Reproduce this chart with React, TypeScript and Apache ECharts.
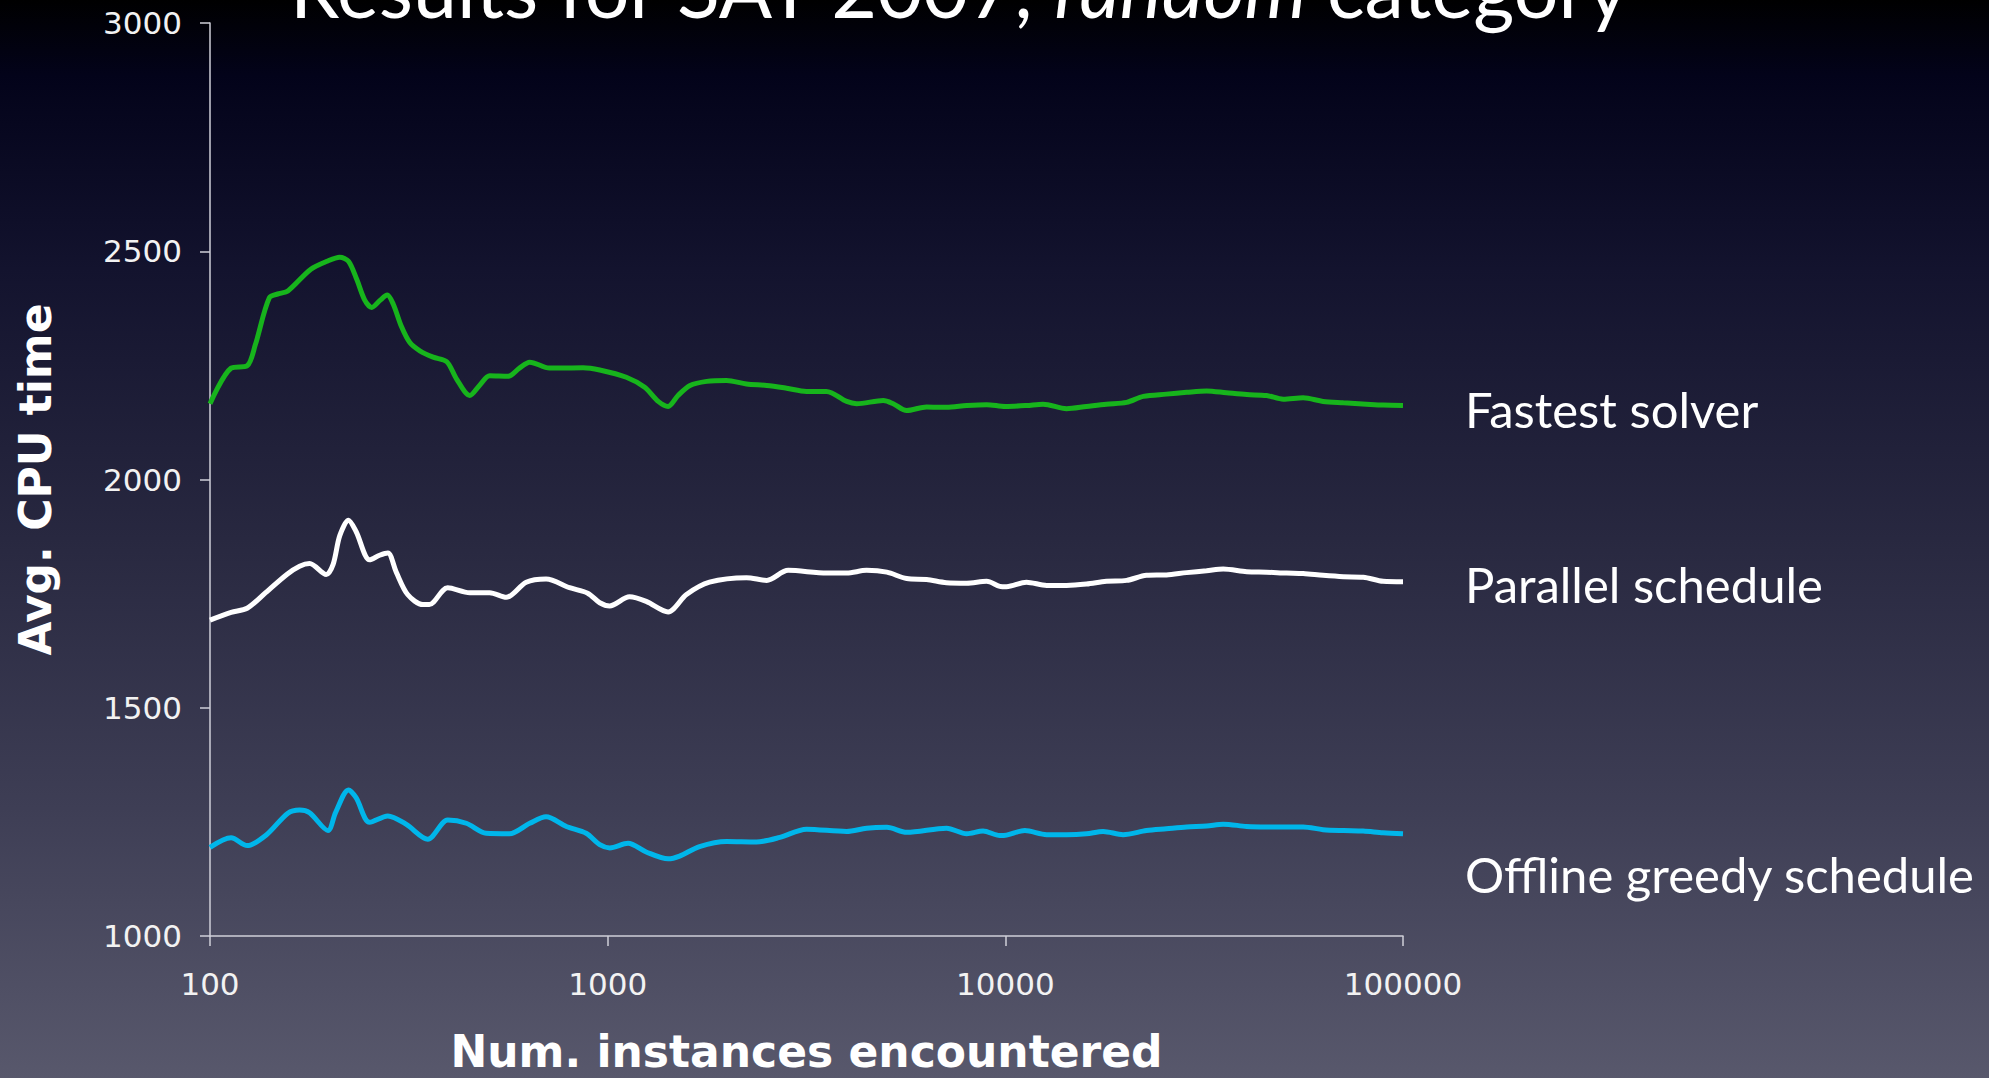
import React, { useEffect, useRef } from "react";
import * as echarts from "echarts";

// Instances encountered (x) and average CPU time (y) for each strategy
const fastestX = [100, 113, 124, 130, 141, 149, 157, 179, 197, 212, 223, 234, 245, 255, 268, 279, 289, 303, 318, 337, 364, 394, 417, 450, 476, 505, 562, 600, 637, 714, 867, 955, 1114, 1239, 1340, 1419, 1503, 1611, 1774, 1991, 2234, 2512, 2818, 3162, 3548, 3990, 4227, 4932, 5224, 5649, 6339, 7112, 7998, 8974, 10000, 11298, 12445, 14256, 15996, 17947, 20184, 22233, 25410, 28576, 32063, 35975, 40458, 45394, 50003, 56105, 62951, 70795, 80910, 89125, 100000];
const fastestY = [2166, 2244, 2249, 2295, 2398, 2407, 2413, 2460, 2478, 2487, 2478, 2438, 2393, 2377, 2393, 2404, 2384, 2335, 2300, 2282, 2268, 2258, 2220, 2184, 2206, 2227, 2226, 2244, 2257, 2244, 2245, 2240, 2224, 2202, 2171, 2160, 2184, 2206, 2215, 2217, 2209, 2206, 2200, 2193, 2193, 2171, 2166, 2173, 2166, 2151, 2159, 2158, 2162, 2164, 2160, 2162, 2165, 2155, 2160, 2165, 2169, 2182, 2187, 2191, 2194, 2190, 2186, 2184, 2176, 2179, 2171, 2168, 2165, 2163, 2162];

const parallelX = [100, 113, 124, 138, 156, 168, 178, 196, 204, 212, 223, 233, 252, 267, 280, 294, 314, 343, 356, 396, 450, 505, 556, 624, 700, 802, 891, 955, 1012, 1135, 1250, 1419, 1578, 1803, 2234, 2512, 2844, 3556, 3990, 4477, 5035, 5649, 6339, 7112, 7998, 8974, 9683, 10070, 11298, 12706, 14256, 15996, 17947, 20184, 22646, 25410, 28576, 32063, 35318, 40458, 45394, 50933, 56105, 62951, 70795, 79433, 89125, 100000];
const parallelY = [1692, 1709, 1718, 1752, 1792, 1810, 1816, 1792, 1814, 1877, 1911, 1886, 1824, 1834, 1839, 1797, 1748, 1726, 1726, 1763, 1752, 1752, 1742, 1775, 1782, 1763, 1751, 1730, 1723, 1743, 1733, 1710, 1748, 1775, 1785, 1779, 1801, 1795, 1795, 1801, 1797, 1783, 1781, 1774, 1773, 1777, 1766, 1765, 1775, 1768, 1768, 1771, 1777, 1779, 1790, 1791, 1796, 1800, 1804, 1798, 1797, 1795, 1794, 1790, 1787, 1786, 1777, 1776];

const greedyX = [100, 113, 124, 138, 157, 168, 178, 198, 207, 223, 233, 252, 280, 311, 353, 396, 441, 495, 566, 637, 700, 787, 883, 955, 1012, 1125, 1250, 1419, 1517, 1702, 1991, 2366, 2710, 3162, 3990, 4477, 5035, 5649, 7112, 7998, 8790, 9683, 10070, 11194, 12706, 14256, 15996, 17620, 19770, 22646, 25410, 28576, 32063, 35318, 40458, 45394, 50933, 56105, 62951, 70795, 79433, 89125, 100000];
const greedyY = [1194, 1215, 1198, 1220, 1269, 1276, 1270, 1231, 1271, 1320, 1303, 1249, 1263, 1245, 1212, 1254, 1247, 1225, 1224, 1247, 1261, 1240, 1225, 1200, 1193, 1203, 1184, 1169, 1175, 1196, 1207, 1206, 1216, 1234, 1229, 1236, 1238, 1227, 1236, 1224, 1230, 1220, 1221, 1231, 1222, 1222, 1224, 1229, 1222, 1231, 1235, 1239, 1241, 1245, 1240, 1239, 1239, 1239, 1233, 1231, 1230, 1226, 1224];

const seriesNames = ["Fastest solver", "Parallel schedule", "Offline greedy schedule"];
const seriesColors = ["#17b41c", "#ffffff", "#00b6ea"];
const yTicks = { min: 1000, max: 3000, step: 500 };
const xRange = { min: 100, max: 100000 };

const W = 1989;
const H = 1078;
const TICK_FONT = "'DejaVu Sans', Verdana, sans-serif";
const LABEL_FONT = "Lato, 'Open Sans', sans-serif";

const zip = (xs: number[], ys: number[]) => xs.map((x, i) => [x, ys[i]]);

export default function App() {
  const ref = useRef<HTMLDivElement>(null);

  useEffect(() => {
    document.body.style.margin = "0";
    document.body.style.overflow = "hidden";
    document.documentElement.style.overflow = "hidden";
    if (!ref.current) return;
    const chart = echarts.init(ref.current, null, { renderer: "svg", width: W, height: H });

    const axisColor = "#cfcfd8";
    const lineSeries = (idx: number, xs: number[], ys: number[], labelOffset: number) => ({
      name: seriesNames[idx],
      type: "line",
      data: zip(xs, ys),
      showSymbol: false,
      symbol: "none",
      smooth: 0.3,
      lineStyle: { color: seriesColors[idx], width: 5 },
      itemStyle: { color: seriesColors[idx] },
      endLabel: {
        show: true,
        formatter: "{a}",
        color: "#ffffff",
        fontFamily: LABEL_FONT,
        fontSize: 49,
        distance: 62,
        offset: [0, labelOffset],
      },
      z: 3 - idx,
    });

    chart.setOption({
      animation: false,
      backgroundColor: "transparent",
      graphic: [
        {
          type: "rect",
          silent: true,
          z: -10,
          shape: { x: 0, y: 0, width: W, height: H },
          style: {
            fill: new echarts.graphic.LinearGradient(0, 0, 0, 1, [
              { offset: 0, color: "#000000" },
              { offset: 0.07, color: "#03031a" },
              { offset: 0.25, color: "#13132e" },
              { offset: 0.5, color: "#282840" },
              { offset: 0.75, color: "#3e3e55" },
              { offset: 1, color: "#58586c" },
            ]),
          },
        },
        {
          type: "text",
          x: 958,
          y: -13,
          z: 10,
          style: {
            text: "{n|Results for SAT 2007, }{i|random}{n| category}",
            align: "center",
            verticalAlign: "middle",
            fill: "#ffffff",
            rich: {
              n: { fontFamily: LABEL_FONT, fontSize: 79, color: "#ffffff" },
              i: { fontFamily: LABEL_FONT, fontSize: 79, fontStyle: "italic", color: "#ffffff" },
            },
          },
        },
      ],
      grid: { left: 210, right: 586, top: 23, bottom: 134, containLabel: false },
      xAxis: {
        type: "log",
        logBase: 10,
        min: xRange.min,
        max: xRange.max,
        name: "Num. instances encountered",
        nameLocation: "middle",
        nameGap: 93,
        nameTextStyle: { color: "#ffffff", fontFamily: TICK_FONT, fontWeight: "bold", fontSize: 44 },
        axisLine: { show: true, lineStyle: { color: axisColor, width: 1.5 } },
        axisTick: { show: true, length: 10, lineStyle: { color: axisColor, width: 1.5 } },
        minorTick: { show: false },
        splitLine: { show: false },
        axisLabel: {
          color: "#f2f2f2",
          fontFamily: TICK_FONT,
          fontSize: 31,
          margin: 32,
          formatter: (v: number) => String(Math.round(v)),
        },
      },
      yAxis: {
        type: "value",
        min: yTicks.min,
        max: yTicks.max,
        interval: yTicks.step,
        name: "Avg. CPU time",
        nameLocation: "middle",
        nameGap: 153,
        nameTextStyle: { color: "#ffffff", fontFamily: TICK_FONT, fontWeight: "bold", fontSize: 44 },
        axisLine: { show: true, lineStyle: { color: axisColor, width: 1.5 } },
        axisTick: { show: true, length: 10, lineStyle: { color: axisColor, width: 1.5 } },
        splitLine: { show: false },
        axisLabel: {
          color: "#f2f2f2",
          fontFamily: TICK_FONT,
          fontSize: 31,
          margin: 28,
          formatter: (v: number) => String(v),
        },
      },
      series: [
        lineSeries(0, fastestX, fastestY, 3),
        lineSeries(1, parallelX, parallelY, 2),
        lineSeries(2, greedyX, greedyY, 40),
      ],
    });

    return () => chart.dispose();
  }, []);

  return (
    <div style={{ width: W, height: H, overflow: "hidden", position: "relative" }}>
      <div ref={ref} style={{ width: W, height: H, overflow: "hidden" }} />
    </div>
  );
}
